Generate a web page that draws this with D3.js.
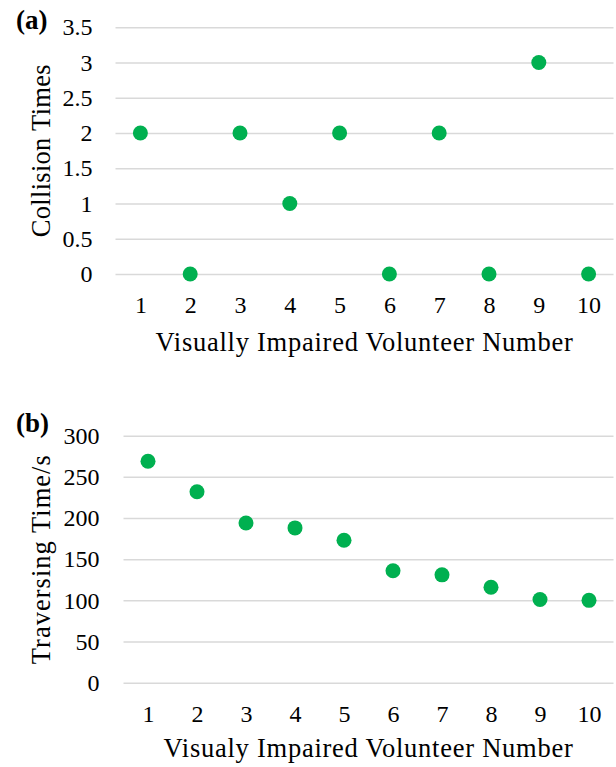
<!DOCTYPE html>
<html>
<head>
<meta charset="utf-8">
<script src="https://cdn.jsdelivr.net/npm/d3@7"></script>
<style>
  html, body { margin: 0; padding: 0; background: #fff; }
  svg { display: block; }
  text { font-family: "Liberation Serif", "Times New Roman", serif; fill: #000; }
</style>
</head>
<body>
<svg id="chart" width="616" height="767"></svg>
<script>
// ---- data ----
const volunteers = [1, 2, 3, 4, 5, 6, 7, 8, 9, 10];
const collisionTimes = [2, 0, 2, 1, 2, 0, 2, 0, 3, 0];
const traversingTimes = [269, 232, 194, 188, 173, 136, 131, 116, 101, 100];
const yTicksA = [0, 0.5, 1, 1.5, 2, 2.5, 3, 3.5];
const yTickLabelsA = ["0", "0.5", "1", "1.5", "2", "2.5", "3", "3.5"];
const yTicksB = [0, 50, 100, 150, 200, 250, 300];
const yTickLabelsB = ["0", "50", "100", "150", "200", "250", "300"];
const panelLabels = ["(a)", "(b)"];
const yTitles = ["Collision Times", "Traversing Time/s"];
const xTitles = ["Visually Impaired Volunteer Number", "Visualy Impaired Volunteer Number"];

// ---- style ----
const dotColor = "#00B050";
const gridColor = "#D9D9D9";

const svg = d3.select("#chart");

// stretch a text to a target width via letter spacing
function fitWidth(sel, target) {
  const node = sel.node();
  const w = node.getComputedTextLength();
  const n = sel.text().length;
  if (n > 1) sel.style("letter-spacing", ((target - w) / n) + "px");
}

function panel(cfg) {
  const g = svg.append("g");
  const x = d3.scalePoint().domain(volunteers).range([cfg.left, cfg.right]).padding(0.5);
  const y = d3.scaleLinear().domain(cfg.yDomain).range([cfg.bottom, cfg.top]);

  // y axis with gridlines
  const yAxis = d3.axisLeft(y)
    .tickValues(cfg.yTicks)
    .tickFormat((d, i) => cfg.yLabels[i])
    .tickSize(-(cfg.right - cfg.left))
    .tickPadding(cfg.yPad);
  const ya = g.append("g").attr("transform", `translate(${cfg.left},0)`).call(yAxis);
  ya.select(".domain").remove();
  ya.selectAll(".tick line").attr("stroke", gridColor).attr("stroke-width", 1.5);
  ya.selectAll(".tick text").style("font-size", "24px")
    .style("font-family", '"Liberation Serif", serif').attr("fill", "#000");

  // x axis
  const xAxis = d3.axisBottom(x).tickSize(0).tickPadding(22);
  const xa = g.append("g").attr("transform", `translate(0,${cfg.bottom})`).call(xAxis);
  xa.select(".domain").remove();
  xa.selectAll(".tick text").style("font-size", "24px")
    .style("font-family", '"Liberation Serif", serif').attr("fill", "#000");

  // dots
  g.append("g").selectAll("circle")
    .data(volunteers.map((v, i) => ({ v, val: cfg.values[i] })))
    .join("circle")
    .attr("cx", d => x(d.v))
    .attr("cy", d => y(d.val))
    .attr("r", 7.5)
    .attr("fill", dotColor);

  // x title
  const xt = g.append("text")
    .attr("x", (cfg.left + cfg.right) / 2)
    .attr("y", cfg.bottom + cfg.xTitleOff)
    .attr("text-anchor", "middle")
    .style("font-size", "26.5px")
    .text(cfg.xTitle);
  fitWidth(xt, cfg.xTitleW);

  // y title
  const yt = g.append("text")
    .attr("transform", `translate(50,${(cfg.top + cfg.bottom) / 2}) rotate(-90)`)
    .attr("text-anchor", "middle")
    .style("font-size", "26.5px")
    .text(cfg.yTitle);
  fitWidth(yt, cfg.yTitleW);

  // panel label
  g.append("text")
    .attr("x", 16)
    .attr("y", cfg.labelY)
    .style("font-size", "27px")
    .style("font-weight", "bold")
    .text(cfg.label);
}

panel({
  left: 115.5, right: 613.5, top: 27.3, bottom: 274,
  yDomain: [0, 3.5], yTicks: yTicksA, yLabels: yTickLabelsA, yPad: 23,
  values: collisionTimes, xTitle: xTitles[0], yTitle: yTitles[0],
  label: panelLabels[0], labelY: 29, xTitleOff: 77, xTitleW: 418, yTitleW: 173
});

panel({
  left: 123.5, right: 613.5, top: 435.7, bottom: 682.7,
  yDomain: [0, 300], yTicks: yTicksB, yLabels: yTickLabelsB, yPad: 24,
  values: traversingTimes, xTitle: xTitles[1], yTitle: yTitles[1],
  label: panelLabels[1], labelY: 432, xTitleOff: 74, xTitleW: 410, yTitleW: 210
});
</script>
</body>
</html>
